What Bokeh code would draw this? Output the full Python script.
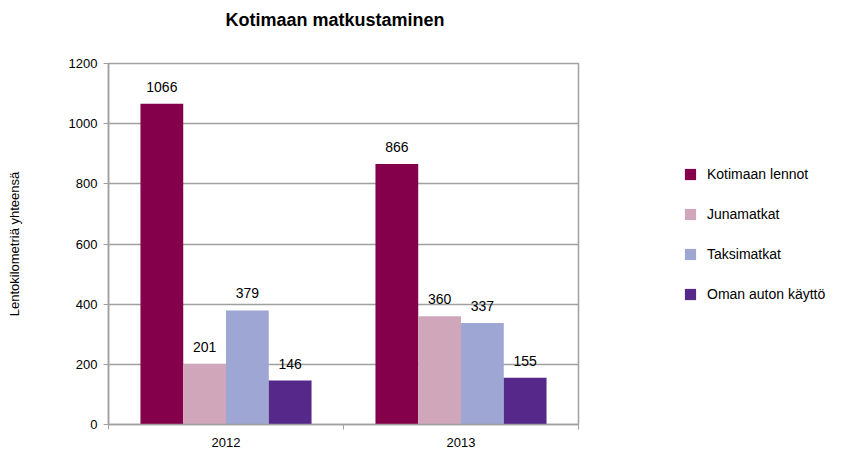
from bokeh.plotting import figure
from bokeh.layouts import row, column
from bokeh.models import ColumnDataSource, FixedTicker, Legend, LegendItem, Range1d, Div
from bokeh.core.properties import value
from bokeh.embed import file_html
from bokeh.resources import INLINE

years = ["2012", "2013"]
series = ["Kotimaan lennot", "Junamatkat", "Taksimatkat", "Oman auton käyttö"]
kotimaan_lennot = [1066, 866]
junamatkat = [201, 360]
taksimatkat = [379, 337]
oman_auton = [146, 155]
colors = ["#85004b", "#cfa6ba", "#9ea6d3", "#55288a"]
title_text = "Kotimaan matkustaminen"

FONT = "Liberation Sans"

title = Div(text=title_text, width=580, height=40, margin=0,
            styles={"font-family": FONT, "font-size": "18px", "font-weight": "bold",
                    "text-align": "center", "line-height": "40px", "color": "black",
                    "box-sizing": "border-box", "padding-left": "90px"})

p = figure(width=580, height=415, output_backend="svg", toolbar_location=None,
           x_range=Range1d(0, 2), y_range=Range1d(0, 1200),
           min_border_left=108, min_border_right=2, min_border_top=23, min_border_bottom=31)

p.outline_line_color = "#a0a0a0"
p.outline_line_width = 1.5
p.xgrid.visible = False
p.ygrid.grid_line_color = "#a0a0a0"
p.ygrid.grid_line_width = 1.5
p.ygrid.ticker = FixedTicker(ticks=[0, 200, 400, 600, 800, 1000, 1200])

all_vals = [kotimaan_lennot, junamatkat, taksimatkat, oman_auton]
bw = 0.182
sources = []
for i, (name, vals, col) in enumerate(zip(series, all_vals, colors)):
    xs = [k + 0.5 + (i - 1.5) * bw for k in range(len(years))]
    src = ColumnDataSource(dict(x=xs, top=vals, lab=[str(v) for v in vals]))
    sources.append(src)
    p.vbar(x="x", top="top", width=bw, bottom=0, source=src, fill_color=col, line_color=None)
    p.text(x="x", y="top", text="lab", source=src, text_align="center", text_baseline="bottom",
           y_offset=-12, text_font=value(FONT), text_font_size="14px", text_color="black")

xa = p.xaxis[0]
xa.ticker = FixedTicker(ticks=[0.5, 1.5], minor_ticks=[0, 1, 2])
xa.major_label_overrides = {0.5: "2012", 1.5: "2013"}
xa.major_tick_out = 0
xa.major_tick_in = 0
xa.minor_tick_out = 5
xa.minor_tick_in = 0
xa.minor_tick_line_color = "#a0a0a0"
xa.axis_line_color = "#a0a0a0"
xa.axis_line_width = 1.5
xa.major_label_text_font = FONT
xa.major_label_text_font_size = "13px"
xa.major_label_text_color = "black"
xa.major_label_standoff = 8

ya = p.yaxis[0]
ya.ticker = FixedTicker(ticks=[0, 200, 400, 600, 800, 1000, 1200])
ya.major_tick_out = 5
ya.major_tick_in = 0
ya.minor_tick_out = 0
ya.minor_tick_in = 0
ya.major_tick_line_color = "#a0a0a0"
ya.axis_line_color = "#a0a0a0"
ya.axis_line_width = 1.5
ya.major_label_text_font = FONT
ya.major_label_text_font_size = "13px"
ya.major_label_text_color = "black"
ya.major_label_standoff = 6
ya.axis_label = "Lentokilometriä yhteensä"
ya.axis_label_text_font = FONT
ya.axis_label_text_font_size = "13px"
ya.axis_label_text_font_style = "normal"
ya.axis_label_text_color = "black"
ya.axis_label_standoff = 44

# legend panel
lp = figure(width=263, height=455, output_backend="svg", toolbar_location=None,
            x_range=Range1d(0, 1), y_range=Range1d(0, 1),
            min_border_left=0, min_border_right=0, min_border_top=0, min_border_bottom=0)
lp.axis.visible = False
lp.grid.visible = False
lp.outline_line_color = None
items = []
for name, col, src in zip(series, colors, sources):
    r = lp.vbar(x="x", top="top", width=bw, bottom=0, source=src, fill_color=col, line_color=None)
    r.visible = False
    items.append(LegendItem(label=name, renderers=[r]))
legend = Legend(items=items, location=(103, 151), margin=0, padding=0, spacing=20,
                glyph_width=14, glyph_height=14, label_height=20, label_standoff=10,
                label_text_font=FONT, label_text_font_size="14px", label_text_color="black",
                border_line_color=None, background_fill_alpha=0, inactive_fill_alpha=0)
lp.add_layout(legend, "center")

layout = row(column(title, p), lp)
open("out.html", "w").write(file_html(layout, INLINE))
